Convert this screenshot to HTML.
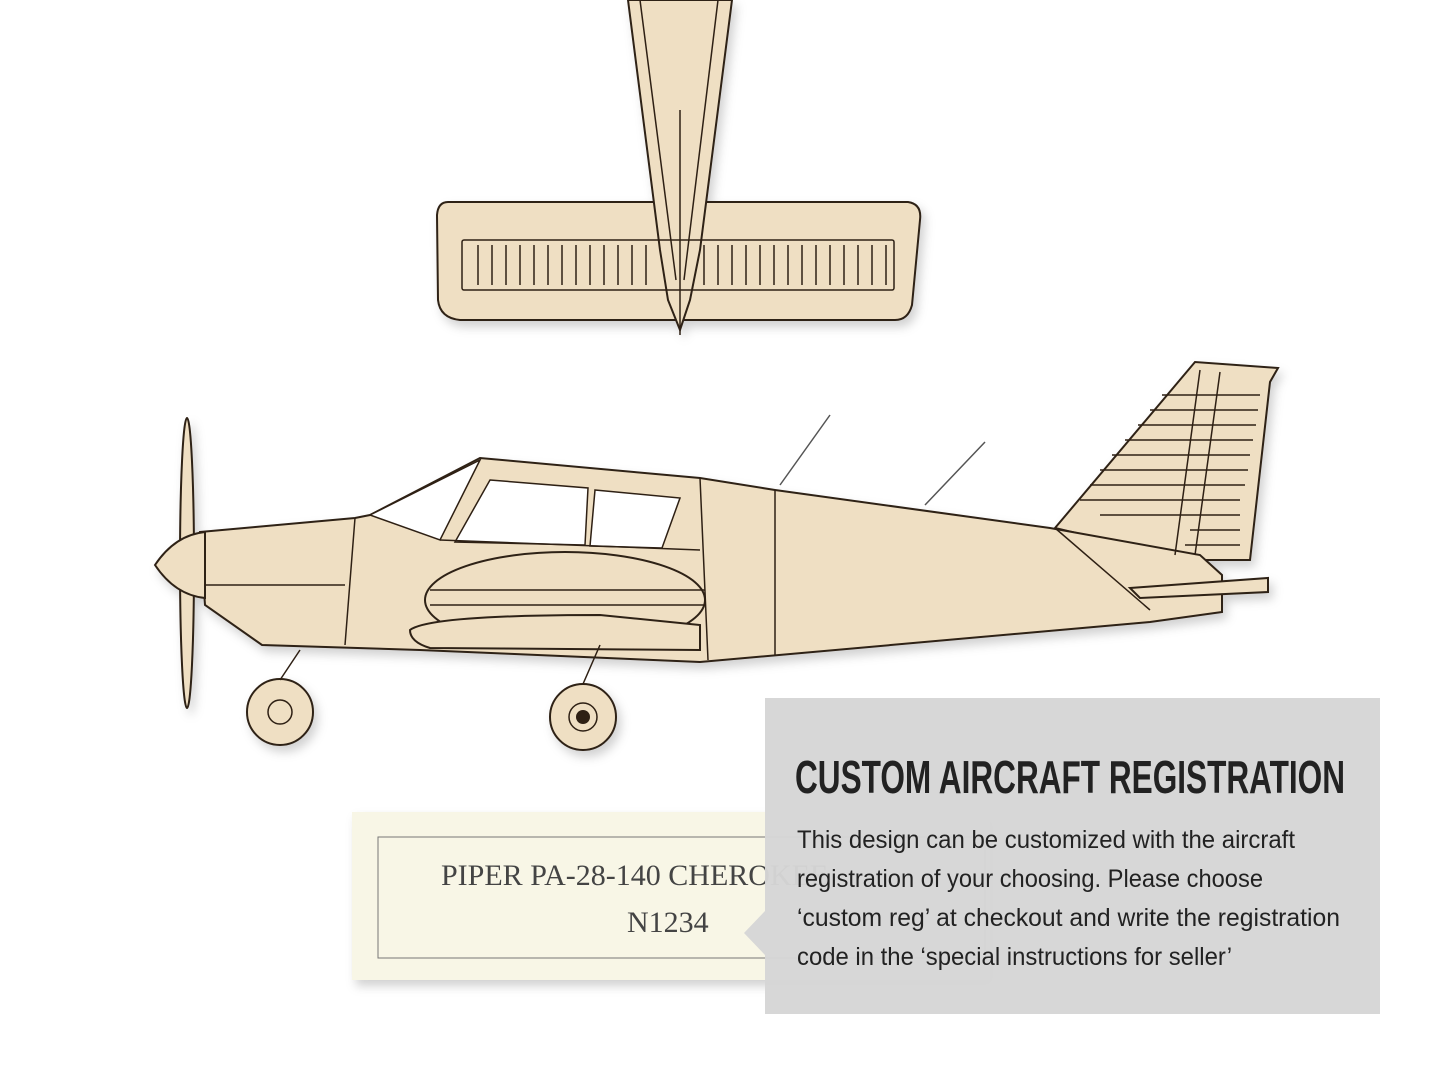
<!DOCTYPE html>
<html><head><meta charset="utf-8"><style>
html,body{margin:0;padding:0;background:#fff;}
svg{display:block}
</style></head><body>
<svg width="1445" height="1084" viewBox="0 0 1445 1084" xmlns="http://www.w3.org/2000/svg">
<defs>
<filter id="sh" x="-5%" y="-5%" width="110%" height="120%"><feDropShadow dx="4" dy="6" stdDeviation="5" flood-color="#000" flood-opacity="0.18"/></filter>
</defs>
<rect width="1445" height="1084" fill="#fff"/>
<g fill="#efdfc3" stroke="#2e2014" stroke-width="2" filter="url(#sh)">
<path d="M448,202 L908,202 Q922,204 920,220 L912,305 Q908,320 895,320 L460,320 Q440,318 438,300 L437,215 Q438,202 448,202 Z"/>
<path d="M628,0 L732,0 L700,250 L690,300 L680,330 L668,300 L660,250 Z"/>
</g>
<g stroke="#2e2014" stroke-width="1.5" fill="none">
<rect x="462" y="240" width="432" height="50" rx="2"/>
<path d="M478,245 v40 M492,245 v40 M506,245 v40 M520,245 v40 M534,245 v40 M548,245 v40 M562,245 v40 M576,245 v40 M590,245 v40 M604,245 v40 M618,245 v40 M632,245 v40 M646,245 v40 M704,245 v40 M718,245 v40 M732,245 v40 M746,245 v40 M760,245 v40 M774,245 v40 M788,245 v40 M802,245 v40 M816,245 v40 M830,245 v40 M844,245 v40 M858,245 v40 M872,245 v40 M886,245 v40"/>
<path d="M640,0 L676,280 M718,0 L684,280 M680,110 L680,335"/>
</g>
<g fill="#efdfc3" stroke="#2e2014" stroke-width="2" filter="url(#sh)">
<ellipse cx="187" cy="563" rx="7" ry="145"/>
<path d="M1055,528 L1195,362 L1278,368 L1270,382 L1250,560 L1190,560 Z"/>
<path d="M200,532 L355,518 L370,515 L480,458 L700,478 L775,490 L1050,528 L1200,555 L1222,575 L1222,612 L1150,622 L700,662 L420,650 L262,645 L205,605 Z"/>
<path d="M155,565 Q175,535 205,532 L205,598 Q175,595 155,565 Z"/>
<ellipse cx="565" cy="600" rx="140" ry="48"/>
<path d="M410,630 Q430,615 600,615 L700,625 L700,650 L430,648 Q410,642 410,630 Z"/>
<path d="M1130,588 L1268,578 L1268,592 L1140,598 Z"/>
<circle cx="280" cy="712" r="33"/>
<circle cx="583" cy="717" r="33"/>
</g>
<g fill="#fff" stroke="#2e2014" stroke-width="1.5">
<path d="M370,515 L480,460 L440,540 Z"/>
<path d="M490,480 L588,488 L585,545 L455,542 Z"/>
<path d="M595,490 L680,498 L662,548 L590,546 Z"/>
</g>
<g stroke="#2e2014" stroke-width="1.5" fill="none">
<path d="M355,518 L345,645 M700,478 L708,660 M775,490 L775,655 M205,585 L345,585 M440,540 L700,550 M1055,528 L1150,610"/>
<path d="M1200,370 L1175,555 M1220,372 L1195,555"/>
<path d="M1080,500 h160 M1090,485 h155 M1100,470 h148 M1112,455 h138 M1125,440 h128 M1138,425 h118 M1150,410 h108 M1162,395 h98 M1100,515 h140 M1190,530 h50 M1185,545 h55"/>
<path d="M780,485 L830,415 M925,505 L985,442" stroke="#555"/>
<path d="M280,680 L300,650 M583,684 L600,645"/>
<circle cx="280" cy="712" r="12"/><circle cx="583" cy="717" r="14"/>
<path d="M430,590 h275 M430,605 h275"/>
</g>
<circle cx="583" cy="717" r="7" fill="#2e2014"/>
<rect x="352" y="812" width="638" height="168" fill="#f8f6e6" filter="url(#sh)"/>
<rect x="378" y="837" width="607" height="121" fill="none" stroke="#777" stroke-width="1"/>
<text x="441" y="885" font-family="Liberation Serif, serif" font-size="30" fill="#444">PIPER PA-28-140 CHEROKEE</text>
<text x="627" y="932" font-family="Liberation Serif, serif" font-size="30" fill="#444">N1234</text>
<path d="M765,698 L1380,698 L1380,1014 L765,1014 L765,955 L744,933 L765,911 Z" fill="#d6d6d6" fill-opacity="0.97"/>
<text x="795" y="793" font-family="Liberation Sans Narrow, Liberation Sans, sans-serif" font-weight="bold" font-size="46" fill="#222" textLength="550" lengthAdjust="spacingAndGlyphs">CUSTOM AIRCRAFT REGISTRATION</text>
<g font-family="Liberation Sans Narrow, Liberation Sans, sans-serif" font-size="25" fill="#222">
<text x="797" y="848" textLength="498" lengthAdjust="spacingAndGlyphs">This design can be customized with the aircraft</text>
<text x="797" y="887" textLength="466" lengthAdjust="spacingAndGlyphs">registration of your choosing. Please choose</text>
<text x="797" y="926" textLength="543" lengthAdjust="spacingAndGlyphs">‘custom reg’ at checkout and write the registration</text>
<text x="797" y="965" textLength="435" lengthAdjust="spacingAndGlyphs">code in the ‘special instructions for seller’</text>
</g>
</svg>
</body></html>
